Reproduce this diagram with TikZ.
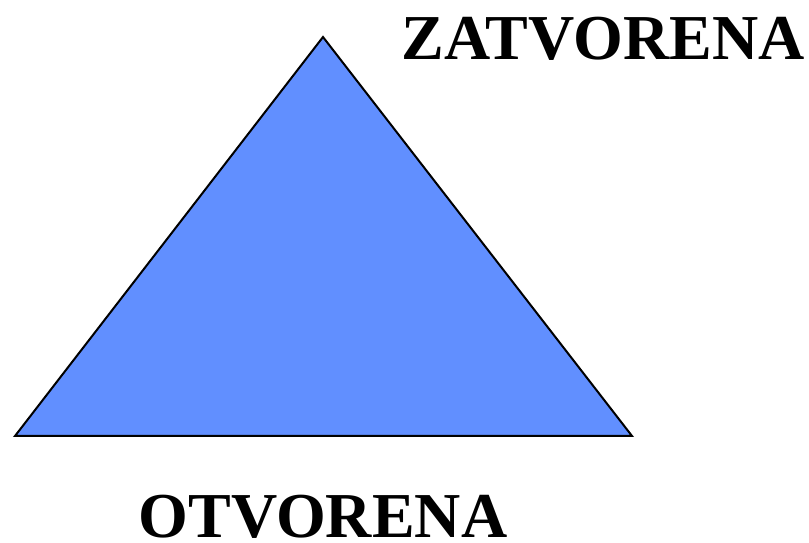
\documentclass[tikz,border=0pt]{standalone}
\usepackage{fontspec}
\setmainfont{Liberation Serif}
\usetikzlibrary{positioning}
\definecolor{valveblue}{RGB}{97,143,255}

\begin{document}
\begin{tikzpicture}[x=1pt, y=1pt]
  \tikzstyle{label}=[font=\fontsize{64}{64}\selectfont\bfseries, anchor=base, inner sep=0pt]
  \useasboundingbox (0,0) rectangle (809,543);
  \coordinate (apex) at (323,506);
  \coordinate (left) at (15,107);
  \coordinate (right) at (632,107);
  \filldraw[fill=valveblue, draw=black, line width=2pt, line join=miter] (apex) -- (left) -- (right) -- cycle;
  \node[label] (closed) at (603,483) {ZATVORENA};
  \node[label] (open) at (323,5) {OTVORENA};
\end{tikzpicture}
\end{document}
